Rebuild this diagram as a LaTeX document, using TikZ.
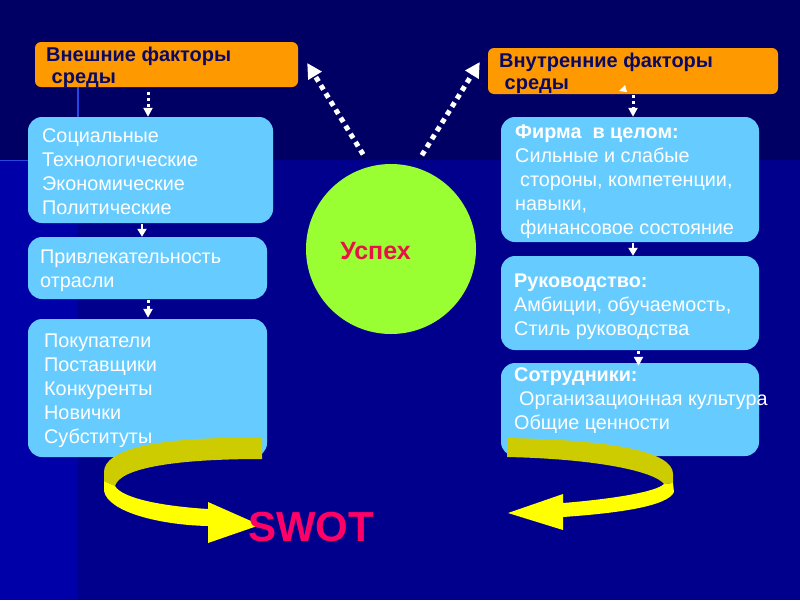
\documentclass[tikz,border=0pt]{standalone}
\usepackage{fontspec}
\setmainfont{Liberation Sans}
\usetikzlibrary{arrows.meta,calc}
\definecolor{bgtop}{RGB}{0,0,100}
\definecolor{bgbot}{RGB}{0,0,140}
\definecolor{bgleft}{RGB}{0,0,168}
\definecolor{glow}{RGB}{40,70,230}
\definecolor{boxblue}{RGB}{102,204,255}
\definecolor{boxorange}{RGB}{255,153,0}
\definecolor{titlenavy}{RGB}{10,10,100}
\definecolor{circgreen}{RGB}{153,255,51}
\definecolor{succred}{RGB}{230,20,70}
\definecolor{swotpink}{RGB}{255,0,102}
\definecolor{ydark}{RGB}{204,204,0}
\definecolor{ybright}{RGB}{255,255,0}
\newcommand{\mlines}[1]{\begin{tabular}[t]{@{}l@{}}#1\end{tabular}}
\begin{document}
\begin{tikzpicture}[x=1pt,y=-1pt,
  bluebox/.style={draw=none, fill=boxblue, rounded corners=14pt, inner sep=0pt},
  orangebox/.style={draw=none, fill=boxorange, rounded corners=6pt, inner sep=0pt},
  bodytext/.style={anchor=base west, inner sep=0pt, text=white, font=\fontsize{19.8}{24}\selectfont},
  titletext/.style={anchor=base west, inner sep=0pt, text=titlenavy, font=\fontsize{20}{22}\selectfont\bfseries},
  vdot/.style={draw=white, line width=3pt, dash pattern=on 3pt off 3pt, -{Triangle[length=9pt,width=9pt,fill=white]}},
  vshort/.style={draw=white, line width=2pt, -{Triangle[length=8pt,width=9pt,fill=white]}},
  ddot/.style={draw=white, line width=5pt, dash pattern=on 5pt off 4.5pt, -{Triangle[length=15pt,width=15pt,fill=white]}},
]
\useasboundingbox (0,0) rectangle (800,600);
% background
\fill[bgtop] (0,0) rectangle (800,160);
\fill[bgbot] (0,160) rectangle (800,600);
\fill[bgleft] (0,160) rectangle (78,600);
\draw[glow, line width=1.2pt] (78,70) -- (78,160);
\draw[glow, line width=1.2pt] (0,160.5) -- (110,160.5);

% boxes
\node[orangebox, minimum width=263pt, minimum height=45pt] (extL) at (166.5,64.5) {};
\node[orangebox, minimum width=290pt, minimum height=46pt] (extR) at (633,71) {};
\node[bluebox, minimum width=245pt, minimum height=106pt] (soc) at (150.5,170) {};
\node[bluebox, minimum width=239pt, minimum height=62pt] (attr) at (147.5,268) {};
\node[bluebox, minimum width=239pt, minimum height=138pt] (buy) at (147.5,388) {};
\node[bluebox, minimum width=258pt, minimum height=125pt] (firm) at (630,179.5) {};
\node[bluebox, minimum width=258pt, minimum height=94pt] (lead) at (630,303) {};
\node[bluebox, minimum width=258pt, minimum height=93pt] (staff) at (630,409.5) {};
\node[circle, fill=circgreen, minimum size=170pt, inner sep=0pt] (circ) at (391,249) {};

% texts
\node[titletext] (extLt) at (46,61) {\mlines{Внешние факторы\\\hspace{5.5pt}среды}};
\node[titletext] (extRt) at (499,67) {\mlines{Внутренние факторы\\\hspace{5.5pt}среды}};
\node[bodytext] (soct) at (42,142) {\mlines{Социальные\\Технологические\\Экономические\\Политические}};
\node[bodytext] (attrt) at (40,263) {\mlines{Привлекательность\\отрасли}};
\node[bodytext] (buyt) at (44,347) {\mlines{Покупатели\\Поставщики\\Конкуренты\\Новички\\Субституты}};
\node[bodytext] (firmt) at (515,138) {\mlines{\textbf{Фирма\ \ в целом:}\\Сильные и слабые\\\hspace{5pt}стороны, компетенции,\\навыки,\\\hspace{5pt}финансовое состояние}};
\node[bodytext] (leadt) at (514,287) {\mlines{\textbf{Руководство:}\\Амбиции, обучаемость,\\Стиль руководства}};
\node[bodytext] (stafft) at (514,381) {\mlines{\textbf{Сотрудники:}\\\hspace{5pt}Организационная культура\\Общие ценности}};
\node[anchor=base, inner sep=0pt, text=succred, font=\fontsize{25}{30}\selectfont\bfseries] (succt) at (375.5,259) {Успех};

% connectors
\coordinate (xa) at (148,0);
\coordinate (xb) at (142,0);
\coordinate (xc) at (633,0);
\coordinate (xd) at (638.5,0);
\draw[vdot, shorten <=5pt] (extL.south -| xa) -- (soc.north -| xa);
\draw[vshort, shorten <=1pt] (soc.south -| xb) -- (attr.north -| xb);
\draw[vdot, shorten <=1pt] (attr.south -| xa) -- ([yshift=1pt]buy.north -| xa);
\draw[vdot, shorten <=1pt] (extR.south -| xc) -- (firm.north -| xc);
\draw[vshort, shorten <=1pt] (firm.south -| xc) -- (lead.north -| xc);
\draw[vdot, shorten <=1pt] (lead.south -| xd) -- ([yshift=-3pt]staff.north -| xd);
\fill[white] (619,91) -- (625,85) -- (627,92) -- cycle;
\draw[ddot, shorten <=14pt] (circ.104) -- ([xshift=9pt,yshift=1.5pt]extL.east);
\draw[ddot, shorten <=14pt] (circ.74) -- ([xshift=-8pt,yshift=9pt]extR.west);

% yellow curved arrows
\fill[ydark] (262,438) .. controls (155,436) and (104,450) .. (104,472) -- (104,481)
  -- (115,486) .. controls (120,468) and (175,459) .. (262,459) -- cycle;
\fill[ybright] (104,481) -- (104,491) .. controls (108,512) and (160,525) .. (208,526)
  -- (208,543) -- (260,525) -- (208,502) -- (208,509)
  .. controls (160,506) and (122,498) .. (115,486) -- cycle;
\fill[ydark] (507,438) .. controls (615,440) and (673,452) .. (673,474) -- (673,483)
  -- (664,484) .. controls (655,472) and (600,459) .. (507,457) -- cycle;
\fill[ybright] (673,483) -- (674,492) .. controls (668,506) and (620,513) .. (563,517)
  -- (563,530) -- (508,513) -- (563,494) -- (563,503)
  .. controls (612,499) and (656,492) .. (664,484) -- cycle;

\node[anchor=base, inner sep=0pt, text=swotpink, font=\fontsize{42}{48}\selectfont\bfseries] (swot) at (311,541) {SWOT};
\end{tikzpicture}
\end{document}
